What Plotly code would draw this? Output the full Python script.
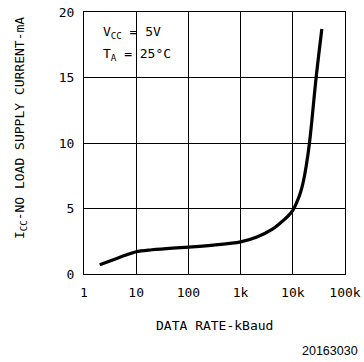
import plotly.graph_objects as go

# Data
data_rate_kbaud = [2, 4, 7, 10, 20, 50, 100, 300, 1000, 2000, 4000, 6000, 8000, 10000, 12000, 14000, 16000, 18000, 21000, 28000, 36000]
icc_ma = [0.7, 1.15, 1.5, 1.7, 1.85, 1.98, 2.05, 2.2, 2.45, 2.8, 3.4, 3.95, 4.4, 4.85, 5.5, 6.2, 7.1, 8.2, 10.1, 15.0, 18.7]

x_tickvals = [1, 10, 100, 1000, 10000, 100000]
x_ticktext = ["1", "10", "100", "1k", "10k", "100k"]
y_tickvals = [0, 5, 10, 15, 20]

FONT = "DejaVu Sans Mono, Liberation Mono, monospace"

fig = go.Figure()
fig.add_trace(go.Scatter(
    x=data_rate_kbaud, y=icc_ma, mode="lines",
    line=dict(color="black", width=3.2, shape="spline", smoothing=1.0),
    showlegend=False, hoverinfo="skip"))

axis_common = dict(showgrid=True, gridcolor="black", gridwidth=1,
                   showline=True, linecolor="black", linewidth=1, mirror=True,
                   zeroline=False, ticks="", automargin=False,
                   tickfont=dict(family=FONT, size=13, color="black"))

fig.update_xaxes(type="log", range=[0, 5], tickvals=x_tickvals, ticktext=x_ticktext,
                 ticklabelstandoff=6, **axis_common)
fig.update_yaxes(range=[0, 20], tickvals=y_tickvals, ticklabelstandoff=6, **axis_common)

fig.update_layout(
    width=364, height=362,
    margin=dict(l=84, r=19, t=12, b=88),
    plot_bgcolor="white", paper_bgcolor="white",
    font=dict(family=FONT, size=13, color="black"),
    annotations=[
        dict(text="V<sub>CC</sub> = 5V", xref="paper", yref="paper",
             x=0.065, y=0.92, xanchor="left", yanchor="middle", showarrow=False,
             font=dict(family=FONT, size=13)),
        dict(text="T<sub>A</sub> = 25°C", xref="paper", yref="paper",
             x=0.065, y=0.836, xanchor="left", yanchor="middle", showarrow=False,
             font=dict(family=FONT, size=13)),
        dict(text="DATA RATE-kBaud", xref="paper", yref="paper", x=0.5, y=-0.195,
             xanchor="center", yanchor="middle", showarrow=False, font=dict(family=FONT, size=13)),
        dict(text="I<sub>CC</sub>-NO LOAD SUPPLY CURRENT-mA", xref="paper", yref="paper",
             x=-0.245, y=0.557, xanchor="center", yanchor="middle", textangle=-90,
             showarrow=False, font=dict(family=FONT, size=13)),
        dict(text="20163030", xref="paper", yref="paper", x=1.057, y=-0.293,
             xanchor="right", yanchor="middle", showarrow=False,
             font=dict(family="Liberation Sans, Arial, sans-serif", size=12.5)),
    ],
)

fig.write_html("out.html", config={"displayModeBar": False},
               post_script="document.body.style.margin='0';")
